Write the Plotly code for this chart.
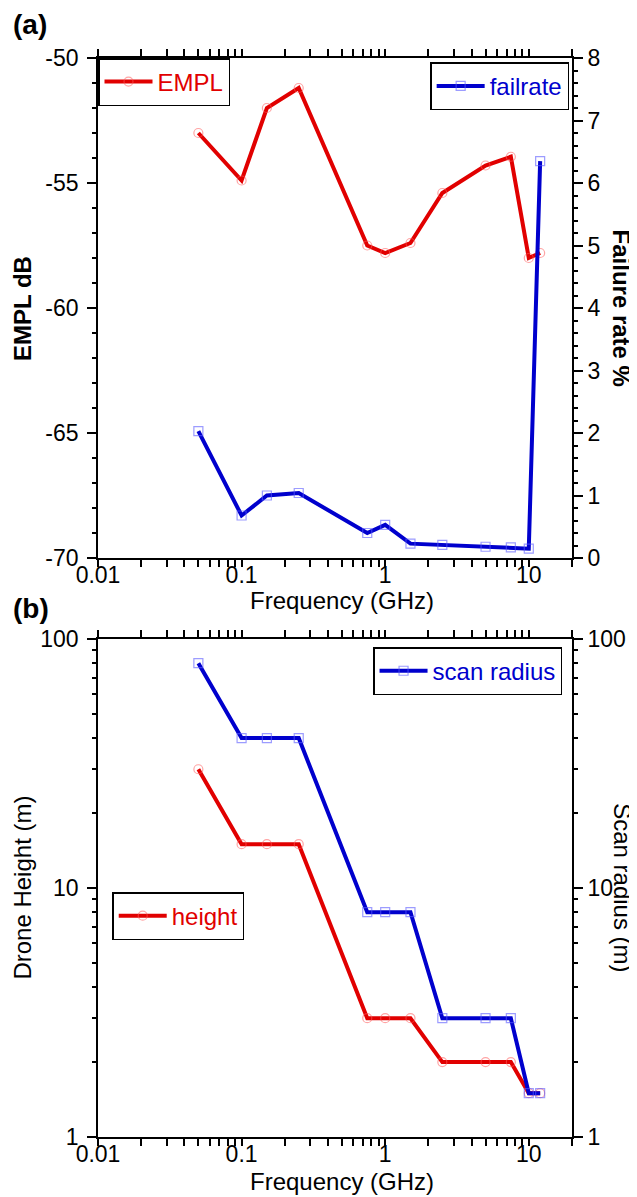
import plotly.graph_objects as go

# ---------------- data ----------------
freq = [0.05, 0.1, 0.15, 0.25, 0.75, 1, 1.5, 2.5, 5, 7.5, 10, 12]
empl = [-53.0, -54.9, -52.0, -51.2, -57.5, -57.8, -57.4, -55.4, -54.3, -53.95, -58.0, -57.8]
failrate = [2.03, 0.68, 1.0, 1.04, 0.4, 0.53, 0.23, 0.21, 0.18, 0.17, 0.15, 6.35]
height = [30, 15, 15, 15, 3, 3, 3, 2, 2, 2, 1.5, 1.5]
scan_radius = [80, 40, 40, 40, 8, 8, 8, 3, 3, 3, 1.5, 1.5]

x_tickvals = [0.01, 0.1, 1, 10]
x_ticktext = ["0.01", "0.1", "1", "10"]
empl_tickvals = [-70, -65, -60, -55, -50]
empl_ticktext = ["-70", "-65", "-60", "-55", "-50"]
fail_tickvals = [0, 1, 2, 3, 4, 5, 6, 7, 8]
fail_ticktext = ["0", "1", "2", "3", "4", "5", "6", "7", "8"]
log_tickvals = [1, 10, 100]
log_ticktext = ["1", "10", "100"]

FONT = "Liberation Sans, Arial, sans-serif"
RED = "rgb(225,0,0)"
BLUE = "rgb(0,0,205)"
RED_M = "rgba(255,90,90,0.55)"
BLUE_M = "rgba(90,90,255,0.6)"

x_minor = [m * 10 ** e for e in range(-2, 2) for m in range(2, 10) if m * 10 ** e <= 20]
y_log_minor = [m * 10 ** e for e in range(0, 2) for m in range(2, 10)]
XRANGE = [-2, 1.3010]

TOP = [0.5366, 1.0]
BOT = [0.0, 0.4615]

fig = go.Figure()
fig.add_trace(go.Scatter(x=freq, y=empl, name="EMPL", mode="lines+markers",
                         line=dict(color=RED, width=4),
                         marker=dict(symbol="circle-open", size=9, color=RED_M, line=dict(width=1.2)),
                         xaxis="x", yaxis="y", legend="legend"))
fig.add_trace(go.Scatter(x=freq, y=failrate, name="failrate", mode="lines+markers",
                         line=dict(color=BLUE, width=4),
                         marker=dict(symbol="square-open", size=9, color=BLUE_M, line=dict(width=1.2)),
                         xaxis="x", yaxis="y2", legend="legend2"))
fig.add_trace(go.Scatter(x=freq, y=height, name="height", mode="lines+markers",
                         line=dict(color=RED, width=4),
                         marker=dict(symbol="circle-open", size=9, color=RED_M, line=dict(width=1.2)),
                         xaxis="x2", yaxis="y3", legend="legend4"))
fig.add_trace(go.Scatter(x=freq, y=scan_radius, name="scan radius", mode="lines+markers",
                         line=dict(color=BLUE, width=4),
                         marker=dict(symbol="square-open", size=9, color=BLUE_M, line=dict(width=1.2)),
                         xaxis="x2", yaxis="y4", legend="legend3"))

tickfont = dict(family=FONT, size=23, color="black")

def xax(anchor, ticks="outside", labels=True, overlay=None):
    out = ticks == "outside"
    d = dict(type="log", range=XRANGE, domain=[0, 1], anchor=anchor,
             tickmode="array", tickvals=x_tickvals, ticktext=x_ticktext,
             ticks=ticks, ticklen=7 if out else 8, tickwidth=1.5, tickcolor="black",
             minor=dict(tickmode="array", tickvals=x_minor, ticks=ticks, ticklen=4,
                        tickwidth=1.5, tickcolor="black", showgrid=False),
             showgrid=False, zeroline=False, showticklabels=labels,
             tickfont=tickfont, mirror="allticks" if out else False)
    if labels:
        d.update(ticklabelstandoff=-12)
    if overlay:
        d.update(overlaying=overlay, showline=False)
    else:
        d.update(showline=True, linecolor="black", linewidth=1.8)
    return d

def linax(domain, rng, tv, tt, mdtick, side, anchor, ticks="outside", labels=True, overlay=None):
    d = dict(domain=domain, range=rng, tickmode="array", tickvals=tv, ticktext=tt,
             side=side, anchor=anchor,
             ticks=ticks, ticklen=9, tickwidth=1.5, tickcolor="black",
             minor=dict(dtick=mdtick, tick0=rng[0], ticks=ticks, ticklen=4, tickwidth=1.5,
                        tickcolor="black", showgrid=False),
             showgrid=False, zeroline=False, showticklabels=labels, tickfont=tickfont,
             ticklabelstandoff=4 if side == "left" else 0)
    if overlay:
        d.update(overlaying=overlay)
    if labels:
        d.update(showline=True, linecolor="black", linewidth=1.8)
    else:
        d.update(showline=False)
    return d

def logax(domain, side, anchor, ticks="outside", labels=True, overlay=None):
    d = dict(type="log", domain=domain, range=[0, 2], side=side, anchor=anchor,
             tickmode="array", tickvals=log_tickvals, ticktext=log_ticktext,
             ticks=ticks, ticklen=9, tickwidth=1.5, tickcolor="black",
             minor=dict(tickmode="array", tickvals=y_log_minor, ticks=ticks, ticklen=4,
                        tickwidth=1.5, tickcolor="black", showgrid=False),
             showgrid=False, zeroline=False, showticklabels=labels, tickfont=tickfont,
             ticklabelstandoff=4 if side == "left" else 0)
    if overlay:
        d.update(overlaying=overlay)
    if labels:
        d.update(showline=True, linecolor="black", linewidth=1.8)
    else:
        d.update(showline=False)
    return d

def legend(x, y, xanchor, color):
    return dict(x=x, y=y, xanchor=xanchor, yanchor="top",
                bgcolor="rgba(255,255,255,0)", bordercolor="black", borderwidth=1.5,
                font=dict(family=FONT, size=24, color=color),
                itemwidth=48, tracegroupgap=0)

fig.update_layout(
    width=629, height=1189,
    margin=dict(l=90, r=65, t=50, b=60),
    paper_bgcolor="white", plot_bgcolor="white",
    font=dict(family=FONT, size=23, color="black"),
    xaxis=xax("y"),
    xaxis2=xax("y3"),
    xaxis3=xax("y", ticks="inside", labels=False, overlay="x"),
    xaxis4=xax("y3", ticks="inside", labels=False, overlay="x2"),
    yaxis=linax(TOP, [-70, -50], empl_tickvals, empl_ticktext, 1, "left", "x"),
    yaxis2=linax(TOP, [0, 8], fail_tickvals, fail_ticktext, 0.2, "right", "x", overlay="y"),
    yaxis3=logax(BOT, "left", "x2"),
    yaxis4=logax(BOT, "right", "x2", overlay="y3"),
    yaxis5=linax(TOP, [-70, -50], empl_tickvals, empl_ticktext, 1, "left", "x",
                 ticks="inside", labels=False, overlay="y"),
    yaxis6=linax(TOP, [0, 8], fail_tickvals, fail_ticktext, 0.2, "right", "x",
                 ticks="inside", labels=False, overlay="y"),
    yaxis7=logax(BOT, "left", "x2", ticks="inside", labels=False, overlay="y3"),
    yaxis8=logax(BOT, "right", "x2", ticks="inside", labels=False, overlay="y3"),
    legend=legend(0.0, 1.0, "left", RED),
    legend2=legend(0.994, 0.996, "right", BLUE),
    legend3=legend(0.979, 0.454, "right", BLUE),
    legend4=legend(0.03, 0.227, "left", RED),
    showlegend=True,
)

ann = []
def add_ann(text, x, y, size=24, bold=False, angle=0, xanchor="center"):
    t = f"<b>{text}</b>" if bold else text
    ann.append(dict(text=t, x=x, y=y, xref="paper", yref="paper", showarrow=False,
                    textangle=angle, xanchor=xanchor, yanchor="middle",
                    font=dict(family=FONT, size=size, color="black")))

add_ann("(a)", -0.183, 1.0315, size=28, bold=True, xanchor="left")
add_ann("(b)", -0.183, 0.490, size=28, bold=True, xanchor="left")
add_ann("Frequency (GHz)", 0.515, 0.4975)
add_ann("Frequency (GHz)", 0.515, -0.041)
add_ann("EMPL dB", -0.159, 0.768, bold=True, angle=-90)
add_ann("Failure rate %", 1.105, 0.768, bold=True, angle=90)
add_ann("Drone Height (m)", -0.159, 0.2308, angle=-90)
add_ann("Scan radius (m)", 1.105, 0.2308, angle=90)
fig.update_layout(annotations=ann)

fig.write_html("out.html")
